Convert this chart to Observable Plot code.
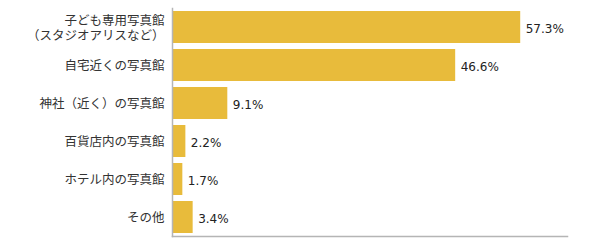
<!DOCTYPE html>
<html>
<head>
<meta charset="utf-8">
<script src="https://cdn.jsdelivr.net/npm/d3@7"></script>
<script src="https://cdn.jsdelivr.net/npm/@observablehq/plot@0.6"></script>
<style>
  html, body { margin: 0; padding: 0; background: #fff; }
  #chart svg { display: block; }
</style>
</head>
<body>
<div id="chart"></div>
<script>
const categories = [
  "子ども専用写真館\n（スタジオアリスなど）",
  "自宅近くの写真館",
  "神社（近く）の写真館",
  "百貨店内の写真館",
  "ホテル内の写真館",
  "その他"
];
const values = [57.3, 46.6, 9.1, 2.2, 1.7, 3.4];
const valueLabels = ["57.3%", "46.6%", "9.1%", "2.2%", "1.7%", "3.4%"];

const data = categories.map((c, i) => ({category: c, value: values[i], label: valueLabels[i]}));

const chart = Plot.plot({
  width: 600,
  height: 245,
  marginLeft: 172,
  marginRight: 33,
  marginTop: 8,
  marginBottom: 9,
  style: {fontFamily: "'Noto Sans CJK JP', sans-serif", color: "#333", background: "#fff"},
  x: {domain: [0, 65], axis: null},
  y: {domain: categories, paddingInner: 0.158, paddingOuter: 0.079, label: null},
  marks: [
    Plot.barX(data, {x: "value", y: "category", fill: "#e8bb3b"}),
    Plot.frame({anchor: "left", stroke: "#b5b5b5", strokeWidth: 1.5}),
    Plot.frame({anchor: "bottom", stroke: "#b5b5b5", strokeWidth: 1.5}),
    Plot.axisY({tickSize: 0, tickPadding: 8, fontSize: 12.5, lineHeight: 1.2, fill: "#333", label: null}),
    Plot.text(data, {x: "value", y: "category", text: "label", textAnchor: "start", dx: 5, dy: 1.5, fontSize: 12, fontFamily: "'DejaVu Sans', sans-serif", fill: "#222"})
  ]
});
document.getElementById("chart").appendChild(chart);
</script>
</body>
</html>
